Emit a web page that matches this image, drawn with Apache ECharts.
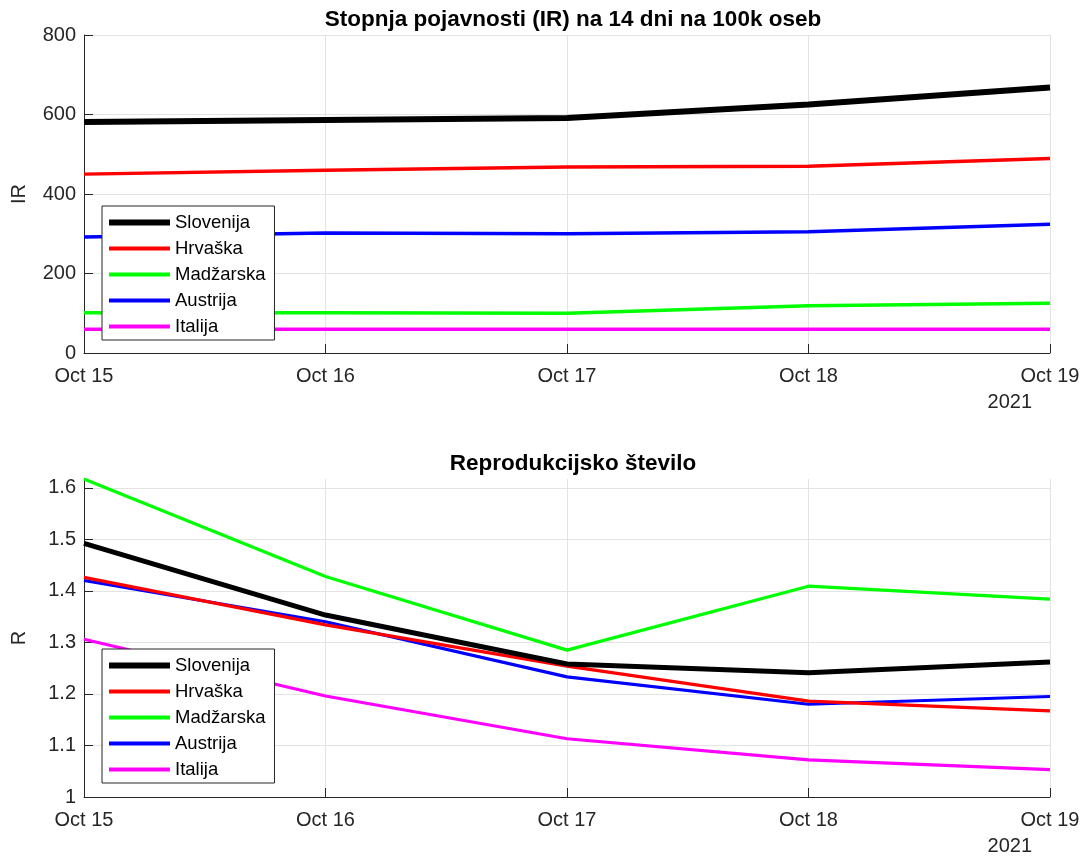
<!DOCTYPE html>
<html>
<head>
<meta charset="utf-8">
<script src="https://cdn.jsdelivr.net/npm/echarts@6/dist/echarts.min.js"></script>
<style>html,body{margin:0;padding:0;background:#fff}#c{width:1088px;height:860px}</style>
</head>
<body>
<div id="c"></div>
<script>
const dates = ['Oct 15', 'Oct 16', 'Oct 17', 'Oct 18', 'Oct 19'];
const yearLabel = '2021';
const countries = ['Slovenija', 'Hrvaška', 'Madžarska', 'Austrija', 'Italija'];
const colors = ['#000000', '#ff0000', '#00ff00', '#0000ff', '#ff00ff'];

// Stopnja pojavnosti (IR)
const irSlovenija = [581, 586, 591, 625, 668];
const irHrvaska   = [450, 460, 468, 470, 489];
const irMadzarska = [101, 101, 100, 119, 125];
const irAustrija  = [292, 302, 300, 305, 324];
const irItalija   = [60, 60, 60, 60, 60];

// Reprodukcijsko število (R)
const rSlovenija = [1.492, 1.353, 1.258, 1.241, 1.262];
const rHrvaska   = [1.426, 1.334, 1.254, 1.186, 1.167];
const rMadzarska = [1.617, 1.428, 1.285, 1.409, 1.384];
const rAustrija  = [1.420, 1.340, 1.233, 1.180, 1.195];
const rItalija   = [1.306, 1.196, 1.113, 1.072, 1.053];

const irTicks = [0, 200, 400, 600, 800];
const rTicks = [1, 1.1, 1.2, 1.3, 1.4, 1.5, 1.6];

const irData = [irSlovenija, irHrvaska, irMadzarska, irAustrija, irItalija];
const rData = [rSlovenija, rHrvaska, rMadzarska, rAustrija, rItalija];

const FONT = "'Liberation Sans', Arial, Helvetica, sans-serif";
const TXT = '#262626';
const GRIDC = '#e3e3e3';
const TICKFS = 20;

function makeX(gridIndex) {
  return {
    type: 'category', gridIndex, data: dates, boundaryGap: false,
    axisLine: { lineStyle: { color: TXT, width: 1 } },
    axisTick: { show: true, inside: true, length: 9, lineStyle: { color: TXT } },
    axisLabel: { color: TXT, fontFamily: FONT, fontSize: TICKFS, margin: 13 },
    splitLine: { show: true, lineStyle: { color: GRIDC, width: 1 } }
  };
}

const chart = echarts.init(document.getElementById('c'), null, { renderer: 'canvas' });

const series = [];
countries.forEach((name, i) => {
  series.push({
    name, type: 'line', xAxisIndex: 0, yAxisIndex: 0, data: irData[i],
    symbol: 'none', color: colors[i],
    lineStyle: { color: colors[i], width: i === 0 ? 6 : 3.5 },
    z: 10 - i, animation: false
  });
});
countries.forEach((name, i) => {
  series.push({
    name, type: 'line', xAxisIndex: 1, yAxisIndex: 1, data: rData[i],
    symbol: 'none', color: colors[i],
    lineStyle: { color: colors[i], width: i === 0 ? 5 : 3.2 },
    z: 10 - i, animation: false
  });
});

function legendIcon(thick) {
  const y0 = (14 - thick) / 2;
  return 'path://M0,0L0,0M0,14L0,14M0,' + y0 + 'h61v' + thick + 'h-61z';
}

function makeLegend(top) {
  return {
    data: countries.map((name, i) => ({
      name, icon: legendIcon(i === 0 ? 6 : 4),
      itemStyle: { color: colors[i], borderWidth: 0 }
    })),
    orient: 'vertical', left: 102, top,
    itemWidth: 61, itemHeight: 14, itemGap: 7,
    padding: [7, 9, 4, 7],
    backgroundColor: '#fff', borderColor: TXT, borderWidth: 1,
    textStyle: { color: '#000', fontFamily: FONT, fontSize: 18.5 },
    selectedMode: false, z: 50
  };
}

const option = {
  animation: false,
  backgroundColor: '#fff',
  title: [
    { text: 'Stopnja pojavnosti (IR) na 14 dni na 100k oseb', left: 568, top: 3, textAlign: 'center',
      textStyle: { fontFamily: FONT, fontSize: 22.5, fontWeight: 'bold', color: '#000' } },
    { text: 'Reprodukcijsko število', left: 568, top: 447, textAlign: 'center',
      textStyle: { fontFamily: FONT, fontSize: 22.5, fontWeight: 'bold', color: '#000' } }
  ],
  grid: [
    { left: 84, top: 35, width: 966, height: 318, containLabel: false },
    { left: 84, top: 479, width: 966, height: 318, containLabel: false }
  ],
  xAxis: [makeX(0), makeX(1)],
  yAxis: [
    {
      type: 'value', gridIndex: 0, min: irTicks[0], max: irTicks[irTicks.length - 1], interval: 200,
      name: 'IR', nameLocation: 'middle', nameGap: 55,
      nameTextStyle: { color: TXT, fontFamily: FONT, fontSize: 20 },
      axisLine: { show: true, lineStyle: { color: TXT } },
      axisTick: { show: true, inside: true, length: 9, lineStyle: { color: TXT } },
      axisLabel: { color: TXT, fontFamily: FONT, fontSize: TICKFS, margin: 8 },
      splitLine: { show: true, lineStyle: { color: GRIDC } }
    },
    {
      type: 'value', gridIndex: 1, min: rTicks[0], max: Math.max(...rMadzarska), interval: 0.1,
      name: 'R', nameLocation: 'middle', nameGap: 55,
      nameTextStyle: { color: TXT, fontFamily: FONT, fontSize: 20 },
      axisLine: { show: true, lineStyle: { color: TXT } },
      axisTick: { show: true, inside: true, length: 9, lineStyle: { color: TXT } },
      axisLabel: { color: TXT, fontFamily: FONT, fontSize: TICKFS, margin: 8, showMaxLabel: false,
        formatter: v => { const r = Math.round(v * 10) / 10; return Math.abs(r - v) < 1e-6 ? String(r) : ''; } },
      splitLine: { show: true, lineStyle: { color: [GRIDC, GRIDC, GRIDC, GRIDC, GRIDC, GRIDC, GRIDC, 'rgba(0,0,0,0)'] } }
    }
  ],
  legend: [makeLegend(206), makeLegend(649)],
  graphic: [
    { type: 'text', right: 1088 - 1032, top: 392, style: { text: yearLabel, fill: TXT, font: TICKFS + "px 'Liberation Sans', Arial, sans-serif" } },
    { type: 'text', right: 1088 - 1032, top: 836, style: { text: yearLabel, fill: TXT, font: TICKFS + "px 'Liberation Sans', Arial, sans-serif" } }
  ],
  series
};
chart.setOption(option);
</script>
</body>
</html>
